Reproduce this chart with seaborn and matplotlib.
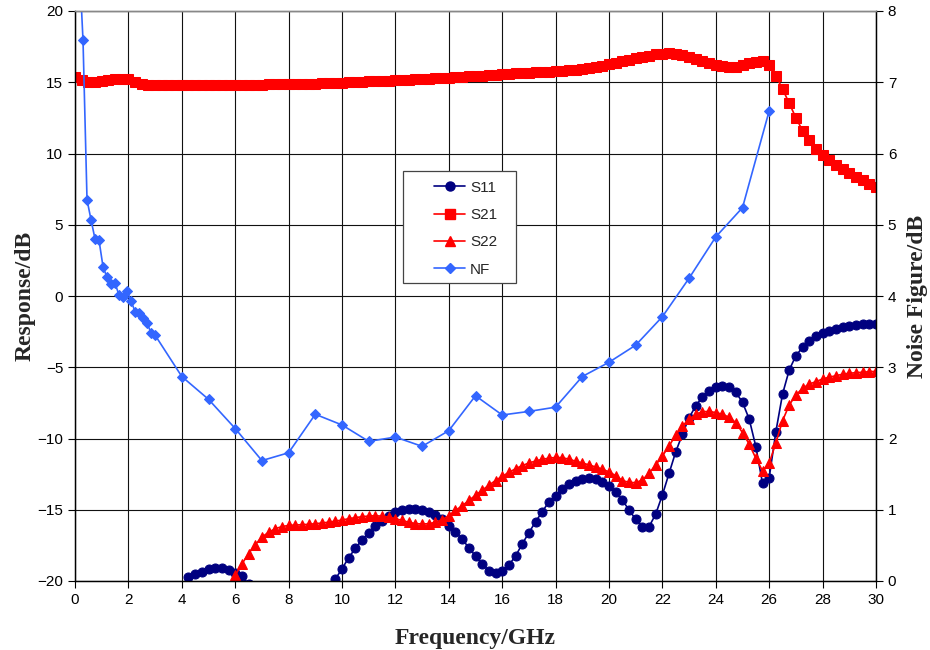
import numpy as np
import pandas as pd
import matplotlib
matplotlib.use("Agg")
import matplotlib.pyplot as plt
import seaborn as sns
from matplotlib.lines import Line2D
from matplotlib.patches import Rectangle

# ---------------- data ----------------
freq = np.round(np.arange(0, 30.26, 0.25), 2)  # GHz sampling grid (122 points)

s11 = [-35.0, -33.0, -31.0, -30.0, -29.0, -28.0, -27.0, -26.5, -26.0, -25.5, -25.0, -24.5,
       -24.0, -23.5, -23.0, -22.0, -20.40, -19.70, -19.51, -19.35, -19.18, -19.11, -19.11, -19.23,
       -19.46, -19.68, -20.20, -21.00, -22.0, -23.0, -24.0, -25.0, -25.5, -25.8, -25.5, -24.5,
       -23.3, -22.0, -20.9, -19.87, -19.14, -18.37, -17.70, -17.12, -16.61, -16.14, -15.77, -15.44,
       -15.18, -15.02, -14.95, -14.95, -15.02, -15.18, -15.37, -15.67, -16.14, -16.54, -17.07, -17.66,
       -18.25, -18.81, -19.28, -19.42, -19.30, -18.88, -18.25, -17.40, -16.61, -15.84, -15.14, -14.44,
       -14.01, -13.56, -13.19, -12.96, -12.84, -12.79, -12.84, -13.03, -13.33, -13.73, -14.32, -15.02,
       -15.67, -16.19, -16.19, -15.30, -13.96, -12.44, -10.93, -9.70, -8.54, -7.71, -7.07, -6.65,
       -6.41, -6.32, -6.36, -6.76, -7.46, -8.63, -10.57, -13.15, -12.75, -9.52, -6.88, -5.19,
       -4.19, -3.60, -3.16, -2.81, -2.57, -2.44, -2.32, -2.20, -2.10, -2.04, -1.99, -1.97,
       -1.95, -1.93]

s21 = [15.35, 15.15, 15.05, 15.05, 15.10, 15.15, 15.22, 15.25, 15.20, 15.05, 14.90, 14.80,
       14.78, 14.78, 14.79, 14.79, 14.80, 14.80, 14.80, 14.81, 14.81, 14.82, 14.82, 14.82,
       14.83, 14.83, 14.83, 14.84, 14.84, 14.85, 14.85, 14.86, 14.86, 14.87, 14.88, 14.89,
       14.90, 14.92, 14.94, 14.96, 14.98, 15.00, 15.02, 15.04, 15.06, 15.08, 15.10, 15.12,
       15.14, 15.16, 15.18, 15.20, 15.22, 15.25, 15.27, 15.30, 15.32, 15.35, 15.38, 15.41,
       15.44, 15.47, 15.50, 15.53, 15.56, 15.59, 15.62, 15.65, 15.67, 15.70, 15.72, 15.75,
       15.77, 15.80, 15.83, 15.87, 15.92, 15.98, 16.06, 16.15, 16.25, 16.35, 16.47, 16.58,
       16.68, 16.78, 16.87, 16.95, 17.00, 17.02, 17.00, 16.92, 16.80, 16.66, 16.50, 16.35,
       16.22, 16.13, 16.08, 16.10, 16.18, 16.32, 16.45, 16.50, 16.20, 15.46, 14.53, 13.52,
       12.51, 11.60, 10.95, 10.32, 9.90, 9.54, 9.19, 8.89, 8.61, 8.37, 8.14, 7.86,
       7.62, 7.40]

s22 = [-30.0, -30.5, -31.0, -31.5, -32.0, -32.5, -33.0, -33.0, -33.0, -32.5, -32.0, -31.5,
       -31.0, -30.0, -29.0, -28.0, -27.0, -26.0, -25.0, -24.0, -23.0, -22.5, -22.0, -20.7,
       -19.60, -18.81, -18.08, -17.45, -16.92, -16.58, -16.33, -16.18, -16.10, -16.07, -16.05, -16.02,
       -15.98, -15.93, -15.87, -15.80, -15.72, -15.63, -15.55, -15.49, -15.44, -15.42, -15.45, -15.52,
       -15.63, -15.75, -15.88, -15.97, -16.00, -15.98, -15.88, -15.70, -15.42, -15.05, -14.72, -14.35,
       -13.98, -13.63, -13.28, -12.95, -12.65, -12.38, -12.12, -11.90, -11.72, -11.58, -11.46, -11.38,
       -11.33, -11.35, -11.45, -11.60, -11.72, -11.85, -12.00, -12.15, -12.35, -12.60, -12.95, -13.08,
       -13.10, -12.91, -12.44, -11.86, -11.23, -10.53, -9.75, -9.12, -8.65, -8.30, -8.12, -8.10,
       -8.18, -8.30, -8.51, -8.89, -9.59, -10.39, -11.39, -12.26, -11.74, -10.30, -8.75, -7.65,
       -6.95, -6.48, -6.18, -6.01, -5.82, -5.70, -5.59, -5.49, -5.42, -5.38, -5.35, -5.31,
       -5.29, -5.27]

nf_freq = [0.15, 0.3, 0.45, 0.6, 0.75, 0.9, 1.05, 1.2, 1.35, 1.5, 1.65, 1.8, 1.95, 2.1,
           2.25, 2.4, 2.55, 2.7, 2.85, 3.0, 4, 5, 6, 7, 8, 9, 10, 11, 12, 13, 14, 15, 16,
           17, 18, 19, 20, 21, 22, 23, 24, 25, 26]
nf = [8.75, 7.59, 5.35, 5.07, 4.80, 4.78, 4.41, 4.26, 4.17, 4.18, 4.01, 3.99, 4.07, 3.93,
      3.78, 3.76, 3.69, 3.62, 3.48, 3.45, 2.87, 2.55, 2.14, 1.69, 1.80, 2.34, 2.19, 1.96,
      2.02, 1.89, 2.11, 2.60, 2.33, 2.38, 2.44, 2.87, 3.07, 3.31, 3.71, 4.25, 4.83, 5.24, 6.60]

series_names = ['S11', 'S21', 'S22', 'NF']
x_ticks = list(range(0, 31, 2))
y_ticks = list(range(-20, 21, 5))
nf_ticks = list(range(0, 9))

# ---------------- style ----------------
sns.set_style("white")
plt.rcParams['font.family'] = ['Liberation Sans', 'DejaVu Sans']

W, H = 930, 650
fig = plt.figure(figsize=(W / 100, H / 100), dpi=100)
fig.patch.set_facecolor('white')
L, R, T, B = 75, 876, 11, 581
ax = fig.add_axes([L / W, 1 - B / H, (R - L) / W, (B - T) / H])
ax2 = ax.twinx()

df = pd.DataFrame({'f': freq, 'S11': s11, 'S21': s21, 'S22': s22})
dnf = pd.DataFrame({'f': nf_freq, 'NF': nf})

c11, c21, cnf = '#000080', '#FF0000', '#3366FF'
st = {
    'S11': dict(color=c11, marker='o', markersize=6.5),
    'S21': dict(color=c21, marker='s', markersize=6.6),
    'S22': dict(color=c21, marker='^', markersize=6.8),
    'NF': dict(color=cnf, marker='D', markersize=4.6),
}
for name in ['S11', 'S21', 'S22']:
    s = st[name]
    sns.lineplot(data=df, x='f', y=name, ax=ax, color=s['color'], marker=s['marker'],
                 markersize=s['markersize'], markeredgecolor=s['color'],
                 markerfacecolor=s['color'], linewidth=1.2, legend=False)
s = st['NF']
sns.lineplot(data=dnf, x='f', y='NF', ax=ax2, color=s['color'], marker=s['marker'],
             markersize=s['markersize'], markeredgecolor=s['color'],
             markerfacecolor=s['color'], linewidth=1.2, legend=False)

ax.set_xlim(0, 30)
ax.set_ylim(-20, 20)
ax2.set_ylim(0, 8)
ax.set_xticks(x_ticks)
ax.set_yticks(y_ticks)
ax2.set_yticks(nf_ticks)

ax.grid(True, color='#111111', linewidth=0.8)
ax.set_axisbelow(True)

for a in (ax, ax2):
    for sp in ('left', 'right', 'bottom'):
        a.spines[sp].set_color('black')
        a.spines[sp].set_linewidth(0.9)
    a.spines['top'].set_color('#888888')
    a.spines['top'].set_linewidth(1.0)

ax.tick_params(axis='both', which='major', direction='out', length=5, width=0.8,
               color='black', labelsize=11, labelcolor='black', bottom=True, left=True)
ax2.tick_params(axis='y', direction='out', length=5, width=0.8, color='black',
                labelsize=11, labelcolor='black', right=True, left=False)

lab_font = dict(family=['Liberation Serif', 'DejaVu Serif'], weight='bold', size=17)
ax.set_xlabel('Frequency/GHz', fontdict=lab_font, labelpad=15)
ax.set_ylabel('Response/dB', fontdict=lab_font, labelpad=1)
ax2.set_ylabel('Noise Figure/dB', fontdict=lab_font, labelpad=8)

# legend: manual frame (extra empty space at left like the original) + frameless legend
box = Rectangle((402.5 / W, 1 - 282.5 / H), (516 - 402.5) / W, (282.5 - 171) / H,
                transform=fig.transFigure, facecolor='white', edgecolor='#444444',
                linewidth=0.9, zorder=4.5, clip_on=False)
ax2.add_artist(box)
handles = [Line2D([], [], color=st[n]['color'], marker=st[n]['marker'],
                  markersize=st[n]['markersize'], linewidth=1.2) for n in series_names]
leg = ax2.legend(handles, series_names, loc='upper left',
                 bbox_to_anchor=(434 / W, 1 - 180.5 / H), bbox_transform=fig.transFigure,
                 frameon=False, fontsize=11, handlelength=2.05, labelspacing=0.88,
                 borderpad=0, handletextpad=0.3, numpoints=1, borderaxespad=0)
leg.set_zorder(6)

fig.savefig('out.png', dpi=100, facecolor='white')
